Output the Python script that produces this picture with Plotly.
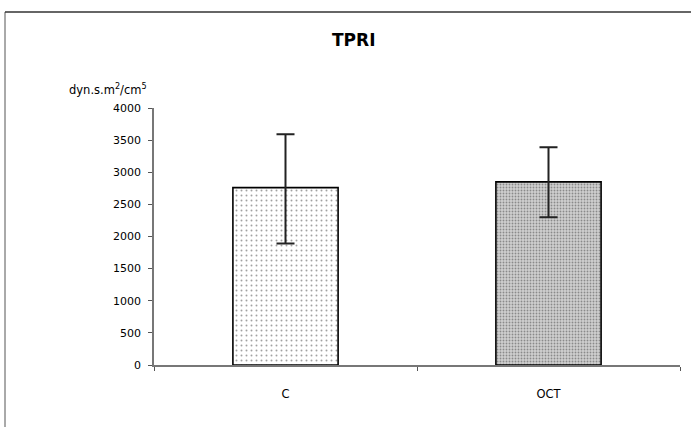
import plotly.graph_objects as go

categories = ["C", "OCT"]
values = [2760, 2850]
err_plus = [830, 540]
err_minus = [870, 550]
y_ticks = [0, 500, 1000, 1500, 2000, 2500, 3000, 3500, 4000]
title_text = "TPRI"
y_unit = "dyn.s.m<sup>2</sup>/cm<sup>5</sup>"

fig = go.Figure()
fig.add_trace(go.Bar(
    x=categories, y=values, width=0.4,
    marker=dict(
        color=["white", "#d0d0d0"],
        line=dict(color="black", width=1.6),
        pattern=dict(shape=".", fgcolor="black", bgcolor=["white", "#d2d2d2"],
                     size=[5, 3], solidity=[0.12, 0.3], fillmode="overlay"),
    ),
    error_y=dict(type="data", symmetric=False, array=err_plus, arrayminus=err_minus,
                 color="#222", thickness=2, width=9),
    showlegend=False,
))

L, R, T, B = 154, 11, 108, 62
W, H = 691, 427
pw, ph = W - L - R, H - T - B

def px(x):
    return (x - L) / pw

def py(y):
    return (H - B - y) / ph

FONT = "DejaVu Sans, Liberation Sans, Arial, sans-serif"

fig.update_layout(
    width=W, height=H,
    margin=dict(l=L, r=R, t=T, b=B),
    paper_bgcolor="white", plot_bgcolor="white",
    font=dict(family=FONT, size=11, color="black"),
    bargap=0.6,
    shapes=[
        dict(type="line", xref="paper", yref="paper", x0=px(5), x1=px(5), y0=py(427), y1=py(12),
             line=dict(color="#555", width=1)),
        dict(type="line", xref="paper", yref="paper", x0=px(5), x1=px(691), y0=py(12), y1=py(12),
             line=dict(color="#333", width=1.5)),
    ],
    annotations=[
        dict(text="<b>" + title_text + "</b>", xref="paper", yref="paper", x=px(353), y=py(40),
             showarrow=False, font=dict(family=FONT, size=17, color="black"),
             xanchor="center", yanchor="middle"),
        dict(text=y_unit, xref="paper", yref="paper", x=px(149), y=py(99),
             showarrow=False, font=dict(family=FONT, size=11.5, color="black"),
             xanchor="right", yanchor="bottom"),
    ],
)
fig.update_xaxes(
    showline=True, linecolor="#777", linewidth=1.5,
    ticks="outside", ticklen=4, tickcolor="#555", tickson="boundaries",
    showgrid=False, ticklabelstandoff=17, tickfont=dict(family=FONT, size=11.5),
)
fig.update_yaxes(
    range=[0, 4000], tickvals=y_ticks, showline=True, linecolor="#777", linewidth=1.5,
    ticks="outside", ticklen=4, tickcolor="#555", showgrid=False, zeroline=False,
    tickfont=dict(family=FONT, size=11), ticklabelstandoff=5,
)
fig.write_html("out.html")
